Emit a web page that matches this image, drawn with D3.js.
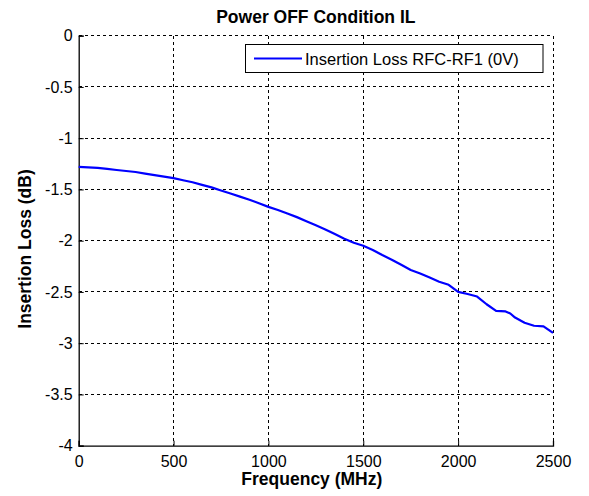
<!DOCTYPE html>
<html>
<head>
<meta charset="utf-8">
<script src="https://cdn.jsdelivr.net/npm/d3@7"></script>
<style>
  body { margin: 0; background: #fff; }
  svg { display: block; }
  text { font-family: "Liberation Sans", Arial, sans-serif; fill: #000; }
</style>
</head>
<body>
<div id="chart"></div>
<script>
// Datos
const frequencies = [0, 50, 100, 150, 200, 250, 300, 350, 400, 450, 500, 550, 600, 650, 700, 750, 800, 850, 900, 950,
  1000, 1050, 1100, 1150, 1200, 1250, 1300, 1350, 1400, 1450, 1500, 1550, 1600, 1650, 1700, 1750, 1800, 1850, 1900, 1950,
  2000, 2050, 2100, 2150, 2200, 2250, 2275, 2300, 2350, 2400, 2450, 2500];
const insertionLoss = [-1.28, -1.285, -1.29, -1.30, -1.31, -1.32, -1.33, -1.345, -1.36, -1.375, -1.39, -1.41, -1.43, -1.455, -1.48, -1.51, -1.54, -1.57, -1.60, -1.635,
  -1.67, -1.70, -1.735, -1.77, -1.81, -1.85, -1.89, -1.935, -1.98, -2.02, -2.05, -2.09, -2.14, -2.185, -2.235, -2.285, -2.32, -2.36, -2.40, -2.43,
  -2.50, -2.52, -2.545, -2.62, -2.685, -2.69, -2.71, -2.75, -2.80, -2.83, -2.835, -2.90];
const xTicks = [0, 500, 1000, 1500, 2000, 2500];
const yTicks = [0, -0.5, -1, -1.5, -2, -2.5, -3, -3.5, -4];
const seriesName = "Insertion Loss RFC-RF1 (0V)";

const width = 589;
const height = 496;
const margin = { top: 35.7, right: 36, bottom: 50.3, left: 78.7 };
const innerWidth = width - margin.left - margin.right;
const innerHeight = height - margin.top - margin.bottom;

const svg = d3.select("#chart")
  .append("svg")
  .attr("width", width)
  .attr("height", height);

const g = svg.append("g")
  .attr("transform", `translate(${margin.left},${margin.top})`);

// Escalas
const x = d3.scaleLinear().domain([0, 2500]).range([0, innerWidth]);
const y = d3.scaleLinear().domain([-4, 0]).range([innerHeight, 0]);

// Rejilla punteada
g.append("g")
  .selectAll("line")
  .data(xTicks.filter(d => d !== 0))
  .enter()
  .append("line")
  .attr("x1", d => x(d)).attr("x2", d => x(d))
  .attr("y1", 0).attr("y2", innerHeight)
  .attr("stroke", "#000")
  .attr("stroke-width", 1)
  .attr("stroke-dasharray", "3,3")
  .attr("shape-rendering", "crispEdges");

g.append("g")
  .selectAll("line")
  .data(yTicks.filter(d => d !== -4))
  .enter()
  .append("line")
  .attr("x1", 0).attr("x2", innerWidth)
  .attr("y1", d => y(d)).attr("y2", d => y(d))
  .attr("stroke", "#000")
  .attr("stroke-width", 1)
  .attr("stroke-dasharray", "3,3")
  .attr("shape-rendering", "crispEdges");

// Ejes
const xAxis = g.append("g")
  .attr("transform", `translate(0,${innerHeight})`)
  .call(d3.axisBottom(x).tickValues(xTicks).tickSize(-5).tickPadding(10).tickFormat(d3.format("d")));

const yAxis = g.append("g")
  .call(d3.axisLeft(y).tickValues(yTicks).tickSize(-5).tickPadding(6).tickFormat(d => d));

[xAxis, yAxis].forEach(ax => {
  ax.select(".domain").attr("stroke", "#000").attr("stroke-width", 1.3);
  ax.selectAll(".tick line").attr("stroke", "#000");
  ax.selectAll(".tick text")
    .style("font-family", "'Liberation Sans', Arial, sans-serif")
    .style("font-size", "16px")
    .attr("fill", "#000");
});
yAxis.selectAll(".tick text").attr("x", -6);

// Curva
const line = d3.line()
  .x((d, i) => x(frequencies[i]))
  .y(d => y(d));

g.append("path")
  .datum(insertionLoss)
  .attr("fill", "none")
  .attr("stroke", "#0000ff")
  .attr("stroke-width", 2.2)
  .attr("stroke-linejoin", "round")
  .attr("d", line);

// Leyenda
const legend = svg.append("g");
legend.append("rect")
  .attr("x", 245.5).attr("y", 44.5)
  .attr("width", 297.5).attr("height", 28)
  .attr("fill", "#fff")
  .attr("stroke", "#000")
  .attr("stroke-width", 1);
legend.append("line")
  .attr("x1", 254).attr("x2", 302)
  .attr("y1", 58.5).attr("y2", 58.5)
  .attr("stroke", "#0000ff")
  .attr("stroke-width", 2.2);
legend.append("text")
  .attr("x", 305).attr("y", 64.5)
  .style("font-size", "16.5px")
  .text(seriesName);

// Títulos
svg.append("text")
  .attr("x", margin.left + innerWidth / 2)
  .attr("y", 22.5)
  .attr("text-anchor", "middle")
  .style("font-size", "17.5px")
  .style("font-weight", "bold")
  .text("Power OFF Condition IL");

svg.append("text")
  .attr("x", margin.left + innerWidth / 2 - 4)
  .attr("y", 485)
  .attr("text-anchor", "middle")
  .style("font-size", "17.5px")
  .style("font-weight", "bold")
  .text("Frequency (MHz)");

svg.append("text")
  .attr("transform", "rotate(-90)")
  .attr("x", -249)
  .attr("y", 31)
  .attr("text-anchor", "middle")
  .style("font-size", "17.5px")
  .style("font-weight", "bold")
  .text("Insertion Loss (dB)");
</script>
</body>
</html>
